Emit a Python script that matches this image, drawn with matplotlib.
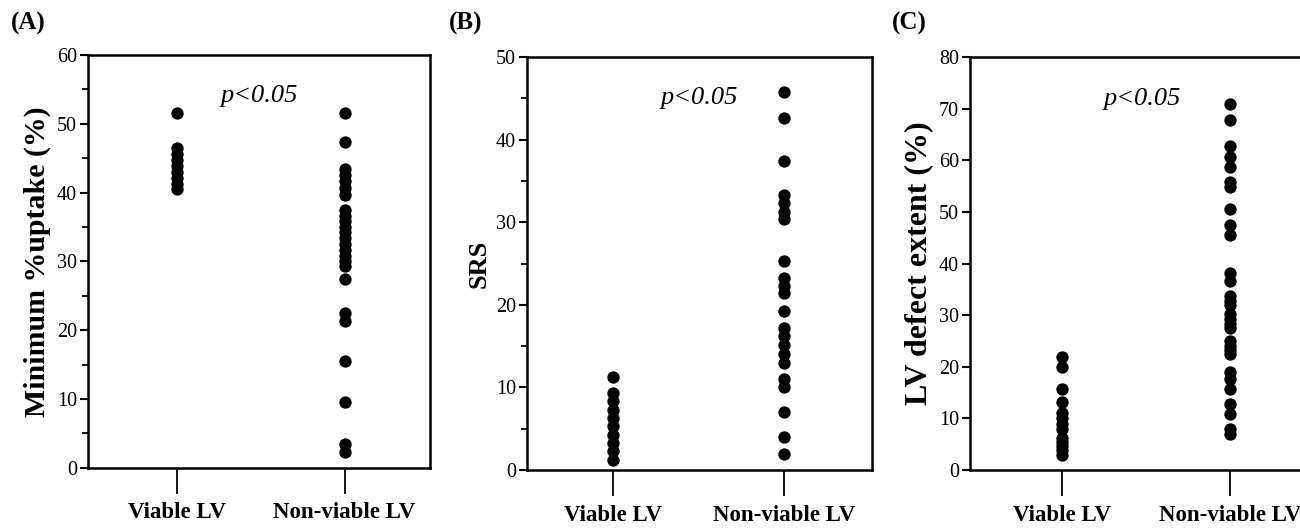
import matplotlib
matplotlib.use('Agg')
import matplotlib.pyplot as plt
from matplotlib.ticker import MultipleLocator

plt.rcParams['font.family'] = ['Liberation Serif', 'DejaVu Serif']

# 그룹 이름
groups = ['Viable LV', 'Non-viable LV']

# (A) Minimum %uptake
a_viable = [51.5, 46.5, 45.6, 44.7, 43.8, 43.0, 42.1, 41.3, 40.5]
a_nonviable = [51.5, 47.4, 43.5, 42.6, 41.7, 40.7, 39.7,
               37.4, 36.6, 35.8, 35.0, 34.2, 33.4, 32.5, 31.6, 30.8, 30.0, 29.3,
               27.5, 22.5, 21.4, 15.5, 9.5, 3.4, 2.3]

# (B) SRS
b_viable = [11.3, 9.3, 8.3, 7.3, 6.3, 5.3, 4.3, 3.3, 2.3, 1.2]
b_nonviable = [45.8, 42.6, 37.4, 33.3, 32.3, 31.3, 30.4, 25.3, 23.3, 22.3, 21.4,
               19.2, 17.2, 16.2, 15.1, 14.1, 13.0, 11.0, 10.0, 7.0, 4.0, 2.0]

# (C) LV defect extent
c_viable = [22.0, 20.0, 15.8, 13.1, 11.0, 10.0, 9.0, 8.0, 6.3, 5.5, 4.7, 3.8, 2.9]
c_nonviable = [71.0, 67.8, 62.8, 60.7, 58.7, 55.8, 54.8, 50.6, 47.5, 45.5,
               38.2, 36.6, 33.7, 32.8, 32.0, 30.2, 29.3, 28.4, 27.5,
               25.0, 24.0, 23.2, 22.4, 19.0, 17.7, 15.8, 12.8, 10.8, 8.0, 6.9]

panels = [
    ('(A)', 'Minimum %uptake (%)', a_viable, a_nonviable, 60, 10, 5,
     [0.0677, 0.1142, 0.2631, 0.7816], 0.47, 21.5),
    ('(B)', 'SRS', b_viable, b_nonviable, 50, 10, 5,
     [0.4054, 0.1098, 0.2654, 0.7820], 0.50, 19),
    ('(C)', 'LV defect extent (%)', c_viable, c_nonviable, 80, 10, None,
     [0.7462, 0.1098, 0.2654, 0.7817], 0.45, 23),
]

fig = plt.figure(figsize=(13, 5.28), dpi=100, facecolor='white')

for letter, ylabel, v1, v2, ymax, major, minor, pos, xleft, lsize in panels:
    ax = fig.add_axes(pos)
    ax.scatter([1] * len(v1), v1, s=62, color='black', zorder=3, clip_on=False)
    ax.scatter([2] * len(v2), v2, s=62, color='black', zorder=3, clip_on=False)

    ax.set_xlim(xleft, 2.51)
    ax.set_ylim(0, ymax)
    ax.set_xticks([1, 2])
    ax.set_xticklabels(groups, fontsize=16.5, fontweight='bold')
    ax.yaxis.set_major_locator(MultipleLocator(major))
    if minor:
        ax.yaxis.set_minor_locator(MultipleLocator(minor))
    ax.tick_params(axis='x', direction='out', length=19, width=1.3, pad=6)
    ax.tick_params(axis='y', which='major', direction='out', length=6, width=1.5,
                   labelsize=14.5, pad=2)
    ax.tick_params(axis='y', which='minor', direction='out', length=4, width=1.3)
    for sp in ax.spines.values():
        sp.set_linewidth(1.8)

    ax.set_ylabel(ylabel, fontsize=lsize, fontweight='bold', labelpad=4)
    ax.text(0.5, 0.90, 'p<0.05', transform=ax.transAxes, fontsize=19,
            fontstyle='italic', ha='center', va='center')

    fig.text(pos[0] - 0.06, 0.955, letter, fontsize=18, fontweight='bold',
             ha='left', va='center')

fig.texts[0].set_x(0.008)

fig.savefig('out.png', dpi=100, facecolor='white')
